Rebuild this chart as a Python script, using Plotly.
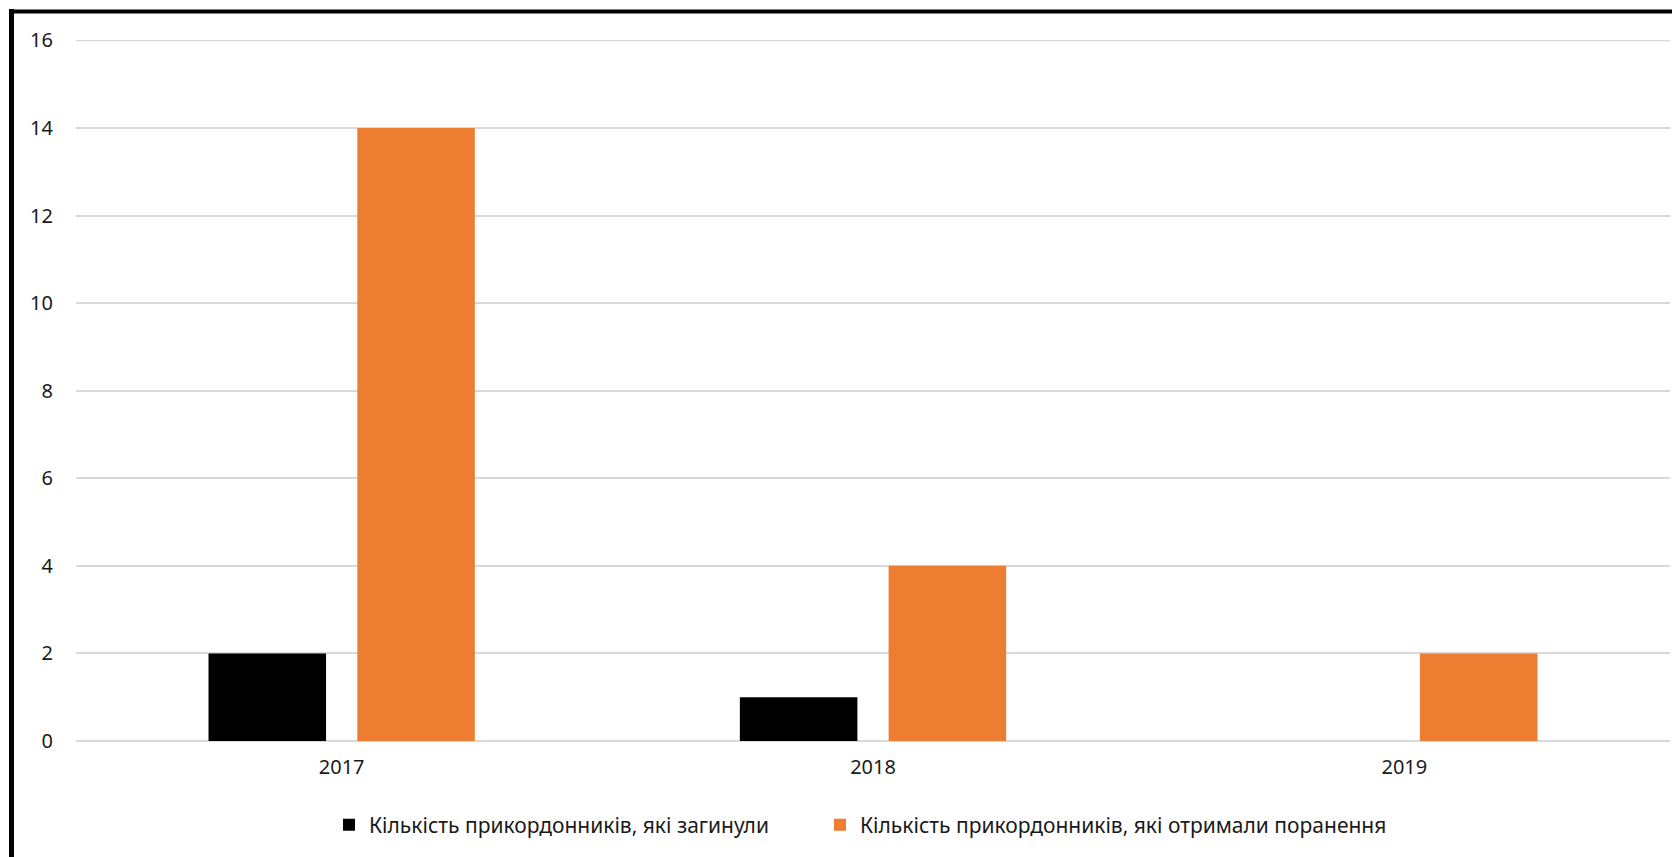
import plotly.graph_objects as go

years = ["2017", "2018", "2019"]
killed = [2, 1, 0]
wounded = [14, 4, 2]
name_killed = "Кількість прикордонників, які загинули"
name_wounded = "Кількість прикордонників, які отримали поранення"
y_ticks = [0, 2, 4, 6, 8, 10, 12, 14, 16]

# page has an 8px body margin; figure coordinates are page coords - 8
W, H = 1672, 849
L, R, T, B = 68, 10, 32, 116
pw, ph = W - L - R, H - T - B

def px(x):
    return (x - L) / pw

def py(y):
    return (H - B - y) / ph

font = "Noto Sans, Open Sans, sans-serif"

fig = go.Figure()
fig.add_trace(go.Bar(x=years, y=killed, name=name_killed, legendwidth=446,
                     marker=dict(color="#000000", line=dict(width=0))))
fig.add_trace(go.Bar(x=years, y=wounded, name=name_wounded, legendwidth=580,
                     marker=dict(color="#ED7D31", line=dict(width=0))))

fig.update_layout(
    width=W, height=H,
    margin=dict(l=L, r=R, t=T, b=B, autoexpand=False),
    paper_bgcolor="white", plot_bgcolor="white",
    barmode="group", bargap=0.44, bargroupgap=0.21,
    font=dict(family=font, size=20, color="#1a1a1a"),
    showlegend=True,
    legend=dict(orientation="h", x=px(321), xanchor="left", y=py(817), yanchor="middle",
                font=dict(size=21, color="#1a1a1a"), itemwidth=30, traceorder="normal"),
    xaxis=dict(showgrid=False, showline=False, zeroline=False, ticks="",
               ticklabelstandoff=12, tickfont=dict(size=20)),
    yaxis=dict(range=[0, 16.01], tickvals=y_ticks, showgrid=True, gridcolor="#d9d9d9", gridwidth=1.5,
               zeroline=True, zerolinecolor="#d9d9d9", zerolinewidth=1.5, showline=False,
               ticks="", ticklabelstandoff=22, tickfont=dict(size=20)),
    shapes=[
        dict(type="line", xref="paper", yref="y", x0=0, x1=1, y0=y_ticks[-1], y1=y_ticks[-1],
             line=dict(color="#d9d9d9", width=1.5), layer="below"),
        dict(type="line", xref="paper", yref="paper", x0=px(3.5), x1=px(3.5), y0=py(1), y1=py(870),
             line=dict(color="black", width=5)),
        dict(type="line", xref="paper", yref="paper", x0=px(1), x1=px(1690), y0=py(3.5), y1=py(3.5),
             line=dict(color="black", width=4)),
    ],
)

fig.write_html("out.html")
